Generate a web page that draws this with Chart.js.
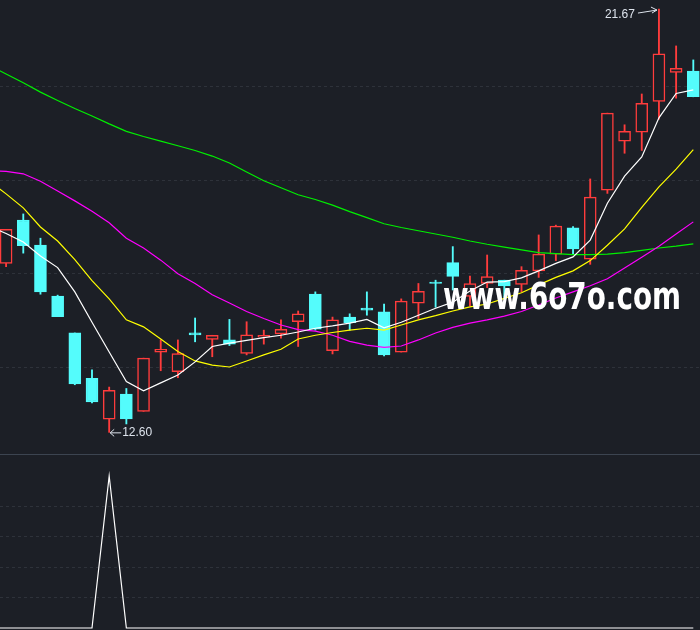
<!DOCTYPE html>
<html><head><meta charset="utf-8">
<script src="https://cdn.jsdelivr.net/npm/chart.js@4.4.0/dist/chart.umd.min.js"></script>
<style>
html,body{margin:0;padding:0;background:#1c1f26;}
#wrap{width:700px;height:630px;position:relative;overflow:hidden;background:#1c1f26;}
#main{position:absolute;left:0;top:0;width:700px;height:454px;}
#sub{position:absolute;left:0;top:454px;width:700px;height:176px;border-top:1px solid #3c4450;box-sizing:border-box;}
</style></head><body>
<div id="wrap"><div id="main"><canvas id="c1"></canvas></div><div id="sub"><canvas id="c2"></canvas></div></div>
<script>
// ---- candles (index 0..40) ----
const openP  = [16.22,17.15,16.61,15.52,14.73,13.76,12.88,13.42,13.05,14.32,13.90,14.73,14.59,14.58,14.29,14.64,14.71,14.97,15.56,14.35,15.07,15.26,15.18,14.32,15.37,15.82,16.24,15.51,15.79,15.86,15.77,16.06,16.42,16.98,16.31,17.79,18.84,19.03,19.69,20.31,20.34];
const highP  = [16.95,17.28,16.76,15.54,14.73,13.94,13.57,13.54,14.19,14.58,14.58,15.05,14.68,15.02,14.97,14.79,15.01,15.20,15.61,15.07,15.14,15.61,15.35,15.46,15.79,15.86,16.58,15.95,16.40,15.86,16.15,16.83,17.04,17.01,18.03,19.44,19.19,19.85,21.67,20.88,20.58];
const lowP   = [16.15,16.44,15.56,15.08,13.62,13.23,12.60,12.78,13.05,13.92,13.77,14.54,14.22,14.46,14.26,14.49,14.62,14.44,14.79,14.28,14.79,15.11,14.24,14.32,15.04,15.28,15.65,15.31,15.70,15.49,15.61,15.92,16.28,16.42,16.20,17.72,18.58,18.64,19.31,19.76,19.79];
const closeP = [16.95,16.60,15.61,15.08,13.64,13.25,13.50,12.89,14.19,14.38,14.29,14.69,14.68,14.49,14.69,14.68,14.81,15.14,14.81,15.01,14.95,15.22,14.26,15.41,15.62,15.79,15.94,15.79,15.94,15.74,16.07,16.42,17.02,16.53,17.64,19.44,19.05,19.65,20.71,20.40,19.79];

// ---- moving averages (index -1..40) ----
const maStart = -1;
const ma5  = [17.02,16.86,16.68,16.38,16.13,15.61,14.96,14.32,13.69,13.49,13.66,13.83,14.11,14.44,14.51,14.57,14.63,14.68,14.75,14.83,14.88,14.94,15.02,14.84,14.96,15.11,15.26,15.39,15.63,15.82,15.83,15.91,16.06,16.22,16.36,16.72,17.51,18.09,18.50,19.34,19.86,19.94];
const ma10 = [17.99,17.71,17.41,17.00,16.70,16.30,15.85,15.46,15.01,14.86,14.60,14.33,14.13,14.04,14.00,14.13,14.26,14.38,14.60,14.68,14.74,14.79,14.83,14.79,14.90,15.01,15.10,15.20,15.29,15.35,15.47,15.59,15.76,15.92,16.06,16.28,16.61,16.96,17.42,17.86,18.24,18.66];
const ma20 = [18.21,18.19,18.14,17.98,17.77,17.56,17.34,17.09,16.76,16.55,16.29,16.00,15.79,15.55,15.37,15.19,15.04,14.90,14.80,14.77,14.68,14.55,14.47,14.42,14.45,14.58,14.73,14.85,14.94,15.01,15.09,15.19,15.33,15.48,15.61,15.74,15.89,16.12,16.35,16.59,16.85,17.11];
const ma60 = [20.46,20.28,20.09,19.89,19.71,19.54,19.38,19.21,19.05,18.94,18.84,18.74,18.64,18.52,18.37,18.18,17.99,17.84,17.69,17.59,17.47,17.33,17.20,17.07,16.99,16.92,16.85,16.78,16.70,16.63,16.57,16.51,16.45,16.43,16.41,16.41,16.42,16.45,16.50,16.55,16.59,16.64];

// ---- lower indicator (index -1..40) ----
const signal = [0,0,0,0,0,0,0,1,0,0,0,0,0,0,0,0,0,0,0,0,0,0,0,0,0,0,0,0,0,0,0,0,0,0,0,0,0,0,0,0,0,0];

// ---- axis ticks / ranges ----
const priceGrid = [14,16,18,20];
const priceRange = [12.136, 21.864];
const signalGrid = [0.2,0.4,0.6,0.8];
const signalRange = [-0.01316, 1.1382];
const idxRange = [-0.355, 40.39];

const BG = '#1c1f26', RED = '#ff3c3c', CYAN = '#54fcfc', GRID = '#2e323a';
const candleIdx = openP.map((_, i) => i);
const maIdx = ma5.map((_, k) => k + maStart);
const isUp = i => closeP[i] >= openP[i];
const pts = arr => maIdx.map((x, k) => ({x, y: arr[k]}));

function lineDs(label, arr, color) {
  return {type:'line', label, data: pts(arr), borderColor: color, borderWidth: 1.2,
          pointRadius: 0, fill: false, tension: 0, order: 1};
}

const marks = {
  id: 'marks',
  afterDraw(chart) {
    const {ctx, scales: {x, y}} = chart;
    const hiVal = Math.max(...highP), loVal = Math.min(...lowP);
    const hi = highP.indexOf(hiVal), lo = lowP.indexOf(loVal);
    const hx = x.getPixelForValue(hi), hy = y.getPixelForValue(hiVal);
    const lx = x.getPixelForValue(lo), ly = y.getPixelForValue(loVal);
    ctx.save();
    ctx.font = '12px "Liberation Sans", Arial, sans-serif';
    ctx.fillStyle = '#dde3ec'; ctx.strokeStyle = '#dde3ec'; ctx.lineWidth = 1;
    // high label
    ctx.textAlign = 'right'; ctx.textBaseline = 'middle';
    ctx.fillText(hiVal.toFixed(2), hx - 24, hy + 6);
    ctx.beginPath(); ctx.moveTo(hx - 21, hy + 4); ctx.lineTo(hx - 2, hy + 1);
    ctx.moveTo(hx - 8, hy - 2); ctx.lineTo(hx - 2, hy + 1); ctx.lineTo(hx - 7, hy + 4);
    ctx.stroke();
    // low label
    ctx.textAlign = 'left';
    ctx.fillText(loVal.toFixed(2), lx + 13, ly);
    ctx.beginPath(); ctx.moveTo(lx + 12, ly + 0.5); ctx.lineTo(lx + 1, ly + 0.5);
    ctx.moveTo(lx + 5, ly - 3); ctx.lineTo(lx + 1, ly + 0.5); ctx.lineTo(lx + 5, ly + 4);
    ctx.stroke();
    // watermark
    ctx.font = 'bold 38px "DejaVu Sans", sans-serif';
    ctx.fillStyle = '#ffffff'; ctx.textBaseline = 'alphabetic';
    ctx.fillText('www.6o7o.com', 443, 309, 238);
    ctx.restore();
  }
};

new Chart(document.getElementById('c1'), {
  type: 'bar',
  data: {datasets: [
    lineDs('MA5', ma5, '#ffffff'),
    lineDs('MA10', ma10, '#ffff00'),
    lineDs('MA20', ma20, '#ff00ff'),
    lineDs('MA60', ma60, '#00f000'),
    {label: 'body', data: candleIdx.map(i => ({x: i, y: [openP[i], closeP[i]]})),
     backgroundColor: c => isUp(c.dataIndex) ? BG : CYAN,
     borderColor: c => isUp(c.dataIndex) ? RED : CYAN,
     borderWidth: 1.5, borderSkipped: false, barThickness: 12, grouped: false, order: 5},
    {label: 'wick', data: candleIdx.map(i => ({x: i, y: [lowP[i], highP[i]]})),
     backgroundColor: c => isUp(c.dataIndex) ? RED : CYAN,
     borderWidth: 0, barThickness: 1.2, grouped: false, order: 6}
  ]},
  options: {
    responsive: true, maintainAspectRatio: false, animation: false,
    layout: {padding: 0, autoPadding: false},
    plugins: {legend: {display: false}, tooltip: {enabled: false}},
    scales: {
      x: {type: 'linear', min: idxRange[0], max: idxRange[1], display: false, offset: false},
      y: {type: 'linear', min: priceRange[0], max: priceRange[1], position: 'left',
          afterBuildTicks: s => { s.ticks = priceGrid.map(v => ({value: v})); },
          afterFit: s => { s.width = 0; },
          ticks: {display: false},
          grid: {color: GRID, drawTicks: false, lineWidth: 1},
          border: {display: false, dash: [3, 3]}}
    }
  },
  plugins: [marks]
});

new Chart(document.getElementById('c2'), {
  type: 'line',
  data: {datasets: [{label: 'signal', data: maIdx.map((x, k) => ({x, y: signal[k]})),
    borderColor: '#ffffff', borderWidth: 1.2, pointRadius: 0, tension: 0, fill: false}]},
  options: {
    responsive: true, maintainAspectRatio: false, animation: false,
    layout: {padding: 0, autoPadding: false},
    plugins: {legend: {display: false}, tooltip: {enabled: false}},
    scales: {
      x: {type: 'linear', min: idxRange[0], max: idxRange[1], display: false, offset: false},
      y: {type: 'linear', min: signalRange[0], max: signalRange[1], position: 'left',
          afterBuildTicks: s => { s.ticks = signalGrid.map(v => ({value: v})); },
          afterFit: s => { s.width = 0; },
          ticks: {display: false},
          grid: {color: GRID, drawTicks: false, lineWidth: 1},
          border: {display: false, dash: [3, 3]}}
    }
  }
});
</script>
</body></html>
